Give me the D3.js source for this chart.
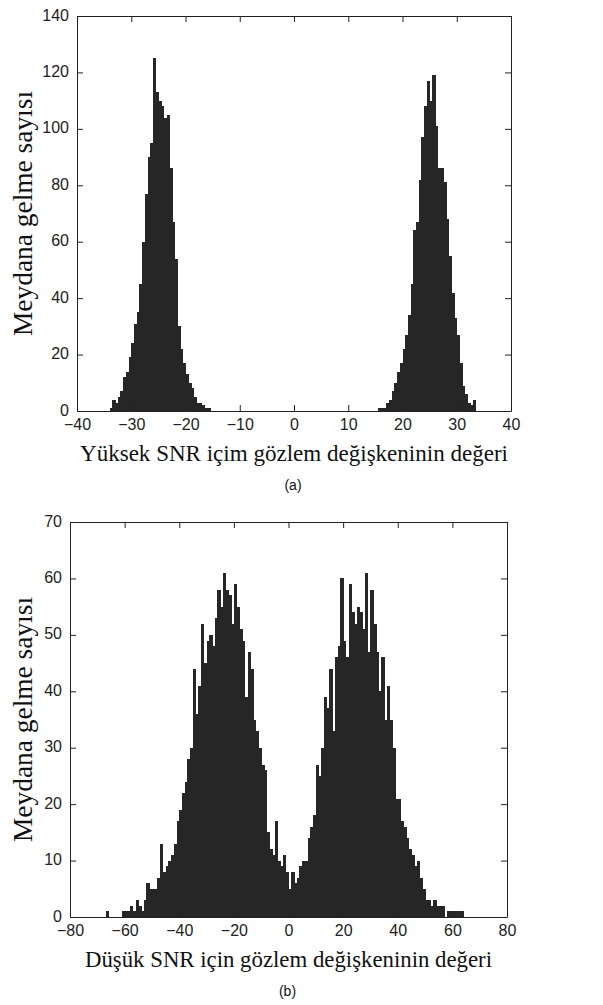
<!DOCTYPE html>
<html lang="tr">

<head>
    <meta charset="UTF-8">
    <script src="https://d3js.org/d3.v7.min.js"></script>
    <title>Histogram</title>
    <style>
        body { margin: 0; background: #fff; }
    </style>
</head>

<body>
    <div id="container"></div>
    <script>
        // (a) yüksek SNR histogram
        const topXTicks = [-40, -30, -20, -10, 0, 10, 20, 30, 40];
        const topYTicks = [0, 20, 40, 60, 80, 100, 120, 140];
        const topBinWidth = 0.5;
        const topLeftStart = -34;
        const topLeftCounts = [1, 4, 3, 5, 7, 12, 14, 19, 24, 31, 35, 45, 60, 77, 90, 95, 125, 113, 110, 108,
            104, 105, 86, 67, 54, 30, 22, 17, 13, 10, 8, 5, 3, 3, 2, 1, 1];
        const topRightStart = 15.5;
        const topRightCounts = [1, 1, 1, 3, 4, 7, 10, 14, 17, 22, 27, 34, 45, 64, 67, 82, 97, 108, 117, 110,
            119, 101, 86, 86, 81, 68, 55, 42, 33, 27, 17, 9, 6, 3, 2, 4];

        // (b) düşük SNR histogram
        const botXTicks = [-80, -60, -40, -20, 0, 20, 40, 60, 80];
        const botYTicks = [0, 10, 20, 30, 40, 50, 60, 70];
        const botBinWidth = 1;
        const botStart = -68;
        const botCounts = [0, 1, 0, 0, 0, 0, 0, 1, 1, 1, 2, 1, 3, 2, 1, 3, 6, 5, 5, 5,
            7, 13, 8, 9, 10, 11, 13, 17, 19, 22, 24, 28, 30, 44, 36, 41, 52, 45, 49, 50,
            48, 53, 58, 55, 61, 58, 57, 52, 59, 55, 51, 49, 39, 47, 44, 35, 33, 30, 27, 26,
            15, 12, 11, 17, 10, 9, 11, 8, 5, 8, 6, 7, 9, 10, 10, 14, 16, 18, 27, 25,
            30, 39, 37, 44, 33, 46, 48, 60, 49, 46, 59, 54, 52, 55, 54, 51, 61, 47, 58, 52,
            47, 40, 46, 35, 41, 35, 30, 21, 21, 17, 16, 14, 12, 11, 9, 10, 7, 5, 3, 3,
            2, 3, 2, 2, 2, 0, 1, 1, 1, 1, 1, 1];

        const yTitle = "Meydana gelme sayısı";

        const width = 603, height = 1005;
        const barColor = "#262626";
        const svg = d3.select("#container")
            .append("svg")
            .attr("width", width)
            .attr("height", height);
        svg.append("rect")
            .attr("width", width)
            .attr("height", height)
            .attr("fill", "#fff");

        function drawPanel(box, xDomain, yDomain, xTicks, yTicks, series, xTitle, xTitleLen, tag) {
            let x = d3.scaleLinear().domain(xDomain).range([box.left, box.right]);
            let y = d3.scaleLinear().domain(yDomain).range([box.bottom, box.top]);
            let g = svg.append("g");

            // bars
            series.forEach(s => {
                g.append("g")
                    .attr("shape-rendering", "crispEdges")
                    .selectAll("rect")
                    .data(s.counts)
                    .enter()
                    .append("rect")
                    .attr("x", (d, i) => x(s.start + i * s.w))
                    .attr("width", (d, i) => x(s.start + (i + 1) * s.w) - x(s.start + i * s.w) + 0.6)
                    .attr("y", d => y(d))
                    .attr("height", d => y(0) - y(d))
                    .attr("fill", barColor);
            });

            // axes, ticks inward on all sides
            let bottom = g.append("g")
                .attr("transform", `translate(0,${box.bottom})`)
                .call(d3.axisBottom(x).tickValues(xTicks).tickSizeInner(-6).tickSizeOuter(0).tickPadding(8));
            let left = g.append("g")
                .attr("transform", `translate(${box.left},0)`)
                .call(d3.axisLeft(y).tickValues(yTicks).tickSizeInner(-6).tickSizeOuter(0).tickPadding(8));
            g.append("g")
                .attr("transform", `translate(0,${box.top})`)
                .call(d3.axisTop(x).tickValues(xTicks).tickSizeInner(-6).tickSizeOuter(0).tickFormat(""));
            g.append("g")
                .attr("transform", `translate(${box.right},0)`)
                .call(d3.axisRight(y).tickValues(yTicks).tickSizeInner(-6).tickSizeOuter(0).tickFormat(""));

            g.selectAll(".domain, .tick line").attr("stroke", "#222");
            g.selectAll(".tick text")
                .attr("font-family", "'Liberation Sans', Arial, sans-serif")
                .attr("font-size", 16)
                .attr("fill", "#222");
            left.selectAll(".tick text").attr("dy", "0.25em");

            // titles
            svg.append("text")
                .attr("x", (box.left + box.right) / 2)
                .attr("y", box.bottom + 50)
                .attr("text-anchor", "middle")
                .attr("font-family", "'Liberation Serif', 'Times New Roman', serif")
                .attr("font-size", 23)
                .attr("textLength", xTitleLen)
                .attr("lengthAdjust", "spacingAndGlyphs")
                .attr("fill", "#111")
                .text(xTitle);
            svg.append("text")
                .attr("transform", `translate(32,${(box.top + box.bottom) / 2}) rotate(-90)`)
                .attr("text-anchor", "middle")
                .attr("font-family", "'Liberation Serif', 'Times New Roman', serif")
                .attr("font-size", 27)
                .attr("textLength", 245)
                .attr("lengthAdjust", "spacingAndGlyphs")
                .attr("fill", "#111")
                .text(yTitle);
            svg.append("text")
                .attr("x", (box.left + box.right) / 2 - 1)
                .attr("y", box.bottom + 79)
                .attr("text-anchor", "middle")
                .attr("font-family", "'Liberation Sans', Arial, sans-serif")
                .attr("font-size", 14)
                .attr("fill", "#111")
                .text(tag);
        }

        drawPanel({ left: 77, right: 511, top: 16, bottom: 411 }, [-40, 40], [0, 140], topXTicks, topYTicks,
            [{ start: topLeftStart, w: topBinWidth, counts: topLeftCounts },
             { start: topRightStart, w: topBinWidth, counts: topRightCounts }],
            "Yüksek SNR içim gözlem değişkeninin değeri", 428, "(a)");

        drawPanel({ left: 70, right: 507, top: 522, bottom: 917 }, [-80, 80], [0, 70], botXTicks, botYTicks,
            [{ start: botStart, w: botBinWidth, counts: botCounts }],
            "Düşük SNR için gözlem değişkeninin değeri", 407, "(b)");
    </script>
</body>

</html>
